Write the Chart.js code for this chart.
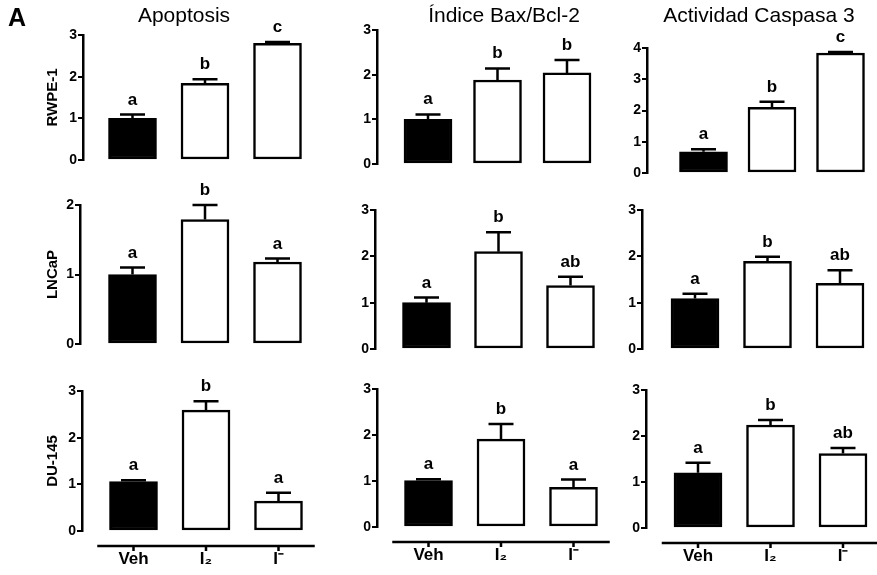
<!DOCTYPE html>
<html>
<head>
<meta charset="utf-8">
<script src="https://cdn.jsdelivr.net/npm/chart.js@4.4.1/dist/chart.umd.min.js"></script>
<style>
  body { margin: 0; background: #fff; }
  #fig { position: relative; width: 877px; height: 575px; overflow: hidden; font-family: "Liberation Sans", Arial, sans-serif; }
  #fig canvas { position: absolute; }
  .txt { position: absolute; line-height: 1; white-space: nowrap; color: #000; z-index: 2; }
  .col-title { font-size: 21px; top: 4px; transform: translateX(-50%); }
  #panel-letter { font-size: 25px; font-weight: bold; left: 8px; top: 5px; }
</style>
</head>
<body>
<div id="fig">
  <div class="txt" id="panel-letter">A</div>
</div>
<script>
// === DATA ===
const categories = ['Veh', 'I\u2082', 'I\u207B'];
const rowNames = ['RWPE-1', 'LNCaP', 'DU-145'];
const colNames = ['Apoptosis', 'Índice Bax/Bcl-2', 'Actividad Caspasa 3'];

// RWPE-1
const rwpeApoptosis = [1.0, 1.84, 2.8];
const rwpeApoptosisSem = [0.09, 0.1, 0.03];
const rwpeApoptosisLetters = ['a', 'b', 'c'];
const rwpeBax = [1.0, 1.88, 2.04];
const rwpeBaxSem = [0.11, 0.26, 0.29];
const rwpeBaxLetters = ['a', 'b', 'b'];
const rwpeCasp = [0.68, 2.1, 3.84];
const rwpeCaspSem = [0.08, 0.18, 0.03];
const rwpeCaspLetters = ['a', 'b', 'c'];

// LNCaP
const lncapApoptosis = [1.0, 1.79, 1.18];
const lncapApoptosisSem = [0.1, 0.21, 0.05];
const lncapApoptosisLetters = ['a', 'b', 'a'];
const lncapBax = [1.0, 2.1, 1.37];
const lncapBaxSem = [0.11, 0.42, 0.19];
const lncapBaxLetters = ['a', 'b', 'ab'];
const lncapCasp = [1.09, 1.89, 1.42];
const lncapCaspSem = [0.1, 0.1, 0.28];
const lncapCaspLetters = ['a', 'b', 'ab'];

// DU-145
const duApoptosis = [1.06, 2.59, 0.64];
const duApoptosisSem = [0.03, 0.19, 0.18];
const duApoptosisLetters = ['a', 'b', 'a'];
const duBax = [1.01, 1.91, 0.86];
const duBaxSem = [0.03, 0.33, 0.17];
const duBaxLetters = ['a', 'b', 'a'];
const duCasp = [1.2, 2.24, 1.62];
const duCaspSem = [0.22, 0.11, 0.12];
const duCaspLetters = ['a', 'b', 'ab'];

const yMax = [[3, 3, 4], [2, 3, 3], [3, 3, 3]];

// === LAYOUT (page pixels) ===
const titleX = [184, 504, 759];
const grid = [
  [ { axis: 83, first: 132.5, step: 72.5, top: 35, bottom: 160 },
    { axis: 377, first: 428, step: 69.5, top: 30, bottom: 164 },
    { axis: 647, first: 703.5, step: 68.5, top: 48, bottom: 173 } ],
  [ { axis: 80, first: 132.5, step: 72.5, top: 205, bottom: 344 },
    { axis: 375, first: 426.5, step: 72, top: 210, bottom: 349 },
    { axis: 642, first: 695, step: 72.5, top: 210, bottom: 349 } ],
  [ { axis: 82, first: 133.5, step: 72.5, top: 391, bottom: 531 },
    { axis: 377, first: 428.5, step: 72.5, top: 389, bottom: 527 },
    { axis: 646, first: 698, step: 72.5, top: 390, bottom: 528 } ]
];

const FONT = '"Liberation Sans", Arial, sans-serif';
Chart.defaults.font.family = FONT;
Chart.defaults.color = '#000';

// === ERROR BARS + SIGNIFICANCE LETTERS ===
const errorBars = {
  id: 'errorBars',
  afterDatasetsDraw(chart, args, opts) {
    const ctx = chart.ctx;
    const y = chart.scales.y;
    const ds = chart.data.datasets[0];
    ctx.save();
    ctx.strokeStyle = '#000';
    ctx.fillStyle = '#000';
    ctx.lineWidth = 2.5;
    ctx.font = 'bold 17px ' + FONT;
    ctx.textAlign = 'center';
    ctx.textBaseline = 'alphabetic';
    chart.getDatasetMeta(0).data.forEach((bar, i) => {
      const top = y.getPixelForValue(ds.data[i].y + opts.sem[i]);
      ctx.beginPath();
      ctx.moveTo(bar.x, bar.y);
      ctx.lineTo(bar.x, top);
      ctx.moveTo(bar.x - 12.5, top);
      ctx.lineTo(bar.x + 12.5, top);
      ctx.stroke();
      ctx.fillText(opts.letters[i], bar.x, top - 10);
    });
    ctx.restore();
  }
};

// detached x axis line under the bottom row
const xBaseline = {
  id: 'xBaseline',
  afterDraw(chart) {
    const ctx = chart.ctx;
    const x = chart.scales.x;
    const yLine = chart.chartArea.bottom + 15;
    ctx.save();
    ctx.strokeStyle = '#000';
    ctx.lineWidth = 2.5;
    ctx.beginPath();
    ctx.moveTo(x.getPixelForValue(-0.5), yLine);
    ctx.lineTo(x.getPixelForValue(categories.length - 0.5), yLine);
    categories.forEach((c, i) => {
      const px = x.getPixelForValue(i);
      ctx.moveTo(px, yLine);
      ctx.lineTo(px, yLine + 5);
    });
    ctx.stroke();
    ctx.restore();
  }
};

function makePanel(row, col, values, sem, letters) {
  const g = grid[row][col];
  const bottomRow = row === 2;
  const yw = col === 0 ? g.axis : 36;
  const left = g.axis - yw;
  const right = g.first + 2.5 * g.step;
  const top = g.top - 30;
  const xh = bottomRow ? 40 : 0;
  const padB = bottomRow ? 4 : 10;
  const width = Math.ceil(right - left) + 3;
  const height = g.bottom - top + xh + padB;

  const canvas = document.createElement('canvas');
  canvas.width = width;
  canvas.height = height;
  canvas.style.left = left + 'px';
  canvas.style.top = top + 'px';
  document.getElementById('fig').appendChild(canvas);

  new Chart(canvas, {
    type: 'bar',
    data: {
      datasets: [{
        data: values.map((v, i) => ({ x: i, y: v })),
        backgroundColor: values.map((v, i) => i === 0 ? '#000' : '#fff'),
        borderColor: '#000',
        borderWidth: 2.5,
        borderSkipped: false,
        barThickness: 48
      }]
    },
    options: {
      responsive: false,
      animation: false,
      layout: { padding: { left: 0, top: 30, right: width - (right - left), bottom: padB } },
      plugins: {
        legend: { display: false },
        tooltip: { enabled: false },
        errorBars: { sem, letters }
      },
      scales: {
        x: {
          type: 'linear',
          offset: false,
          bounds: 'data',
          min: -(g.first - g.axis) / g.step,
          max: 2.5,
          display: bottomRow,
          border: { display: false },
          grid: { display: false, drawTicks: false, offset: false },
          afterBuildTicks: s => { s.ticks = categories.map((c, i) => ({ value: i })); },
          ticks: {
            autoSkip: false,
            maxRotation: 0,
            padding: 18,
            color: '#000',
            font: { size: 17, weight: 'bold' },
            callback: v => categories[v]
          },
          afterFit: s => { s.height = xh; }
        },
        y: {
          min: 0,
          max: yMax[row][col],
          border: { display: true, color: '#000', width: 2.5 },
          grid: { drawOnChartArea: false, drawTicks: true, tickLength: 5, color: '#000', lineWidth: 2 },
          ticks: { stepSize: 1, padding: 1, color: '#000', font: { size: 14, weight: 'bold' } },
          title: {
            display: col === 0,
            text: rowNames[row],
            color: '#000',
            font: { size: 15, weight: 'bold' },
            padding: { top: 44, bottom: 0 }
          },
          afterFit: s => { s.width = yw; }
        }
      }
    },
    plugins: bottomRow ? [errorBars, xBaseline] : [errorBars]
  });
}

colNames.forEach((name, i) => {
  const d = document.createElement('div');
  d.className = 'txt col-title';
  d.style.left = titleX[i] + 'px';
  d.textContent = name;
  document.getElementById('fig').appendChild(d);
});

makePanel(0, 0, rwpeApoptosis, rwpeApoptosisSem, rwpeApoptosisLetters);
makePanel(0, 1, rwpeBax, rwpeBaxSem, rwpeBaxLetters);
makePanel(0, 2, rwpeCasp, rwpeCaspSem, rwpeCaspLetters);
makePanel(1, 0, lncapApoptosis, lncapApoptosisSem, lncapApoptosisLetters);
makePanel(1, 1, lncapBax, lncapBaxSem, lncapBaxLetters);
makePanel(1, 2, lncapCasp, lncapCaspSem, lncapCaspLetters);
makePanel(2, 0, duApoptosis, duApoptosisSem, duApoptosisLetters);
makePanel(2, 1, duBax, duBaxSem, duBaxLetters);
makePanel(2, 2, duCasp, duCaspSem, duCaspLetters);
</script>
</body>
</html>
